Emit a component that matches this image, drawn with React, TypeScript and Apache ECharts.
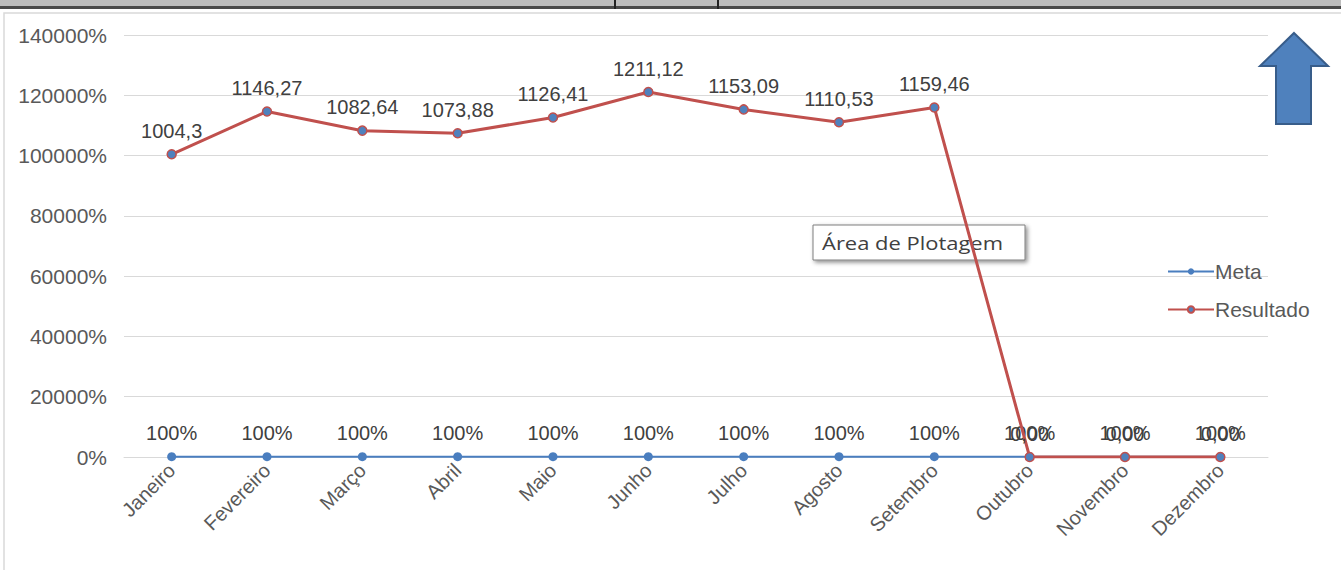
import React, { useEffect, useRef } from "react";
import * as echarts from "echarts";

const months = ["Janeiro", "Fevereiro", "Março", "Abril", "Maio", "Junho", "Julho", "Agosto", "Setembro", "Outubro", "Novembro", "Dezembro"];
const meta = [1, 1, 1, 1, 1, 1, 1, 1, 1, 1, 1, 1];
const resultado = [1004.3, 1146.27, 1082.64, 1073.88, 1126.41, 1211.12, 1153.09, 1110.53, 1159.46, 0, 0, 0];
const resultadoLabels = ["1004,3", "1146,27", "1082,64", "1073,88", "1126,41", "1211,12", "1153,09", "1110,53", "1159,46", "0,00", "0,00", "0,00"];
const yMax = 1400;
const yStep = 200;

const FONT = "'Liberation Sans', Arial, sans-serif";

export default function App() {
  const ref = useRef<HTMLDivElement>(null);
  useEffect(() => {
    if (!ref.current) return;
    const chart = echarts.init(ref.current, null, { renderer: "svg" });
    chart.setOption({
      animation: false,
      backgroundColor: "#ffffff",
      textStyle: { fontFamily: FONT },
      grid: { left: 124, right: 73, top: 35, bottom: 113, containLabel: false },
      legend: {
        orient: "vertical",
        left: 1162,
        top: 256,
        itemGap: 17,
        itemWidth: 46,
        itemHeight: 8,
        textStyle: { fontSize: 21, color: "#595959", fontFamily: FONT, padding: [0, 0, 0, -4] },
        data: ["Meta", "Resultado"],
      },
      xAxis: {
        type: "category",
        data: months,
        boundaryGap: true,
        axisLine: { show: true, lineStyle: { color: "#d9d9d9" } },
        axisTick: { show: false },
        axisLabel: { rotate: 45, fontSize: 20, color: "#595959", margin: 10, interval: 0 },
      },
      yAxis: {
        type: "value",
        min: 0,
        max: yMax,
        interval: yStep,
        axisLine: { show: false },
        axisTick: { show: false },
        splitLine: { lineStyle: { color: "#d9d9d9" } },
        axisLabel: {
          fontSize: 21,
          color: "#595959",
          margin: 17,
          formatter: (v: number) => `${Math.round(v * 100)}%`,
        },
      },
      series: [
        {
          name: "Meta",
          type: "line",
          data: meta,
          symbol: "circle",
          symbolSize: 9,
          lineStyle: { color: "#4a7ebf", width: 2 },
          itemStyle: { color: "#4a7ebf" },
          label: {
            show: true,
            position: "top",
            distance: 9,
            fontSize: 20,
            color: "#404040",
            formatter: (p: any) => `${Math.round(p.value * 100)}%`,
          },
          z: 2,
        },
        {
          name: "Resultado",
          type: "line",
          data: resultado,
          symbol: "circle",
          symbolSize: 9,
          lineStyle: { color: "#c0504d", width: 3 },
          itemStyle: { color: "#4f81bd", borderColor: "#c0504d", borderWidth: 1.5 },
          label: {
            show: true,
            position: "top",
            distance: 8,
            fontSize: 20,
            color: "#404040",
            formatter: (p: any) => resultadoLabels[p.dataIndex],
          },
          z: 3,
        },
      ],
      graphic: [
        { type: "rect", left: 0, top: 0, shape: { x: 0, y: 0, width: 1341, height: 6 }, style: { fill: "#bdbdbd" }, silent: true },
        { type: "rect", left: 0, top: 6, shape: { x: 0, y: 0, width: 1341, height: 3 }, style: { fill: "#4a4a4a" }, silent: true },
        { type: "rect", left: 614, top: 0, shape: { x: 0, y: 0, width: 2, height: 9 }, style: { fill: "#222" }, silent: true },
        { type: "rect", left: 717, top: 0, shape: { x: 0, y: 0, width: 2, height: 9 }, style: { fill: "#222" }, silent: true },
        {
          type: "rect",
          shape: { x: 4, y: 13, width: 1345, height: 565 },
          style: { fill: "none", stroke: "#d9d9d9", lineWidth: 1.5 },
          silent: true,
        },
        {
          type: "polygon",
          shape: {
            points: [
              [1294, 33],
              [1328, 66],
              [1311, 66],
              [1311, 124],
              [1276, 124],
              [1276, 66],
              [1260, 66],
            ],
          },
          style: { fill: "#4f81bd", stroke: "#385d8a", lineWidth: 2 },
          z: 10,
        },
        {
          type: "group",
          z: 20,
          children: [
            {
              type: "rect",
              shape: { x: 813, y: 225, width: 212, height: 35 },
              style: {
                fill: "#ffffff",
                stroke: "#7f7f7f",
                lineWidth: 1,
                shadowBlur: 4,
                shadowOffsetX: 2,
                shadowOffsetY: 2,
                shadowColor: "rgba(0,0,0,0.45)",
              },
            },
            {
              type: "text",
              x: 822,
              y: 243,
              scaleX: 1.22,
              style: {
                text: "Área de Plotagem",
                fontSize: 18,
                fill: "#404040",
                fontFamily: "'Open Sans', 'Noto Sans', sans-serif",
                verticalAlign: "middle",
              },
            },
          ],
        },
      ],
    });
    return () => chart.dispose();
  }, []);
  return <div ref={ref} style={{ position: "fixed", left: 0, top: 0, width: 1341, height: 570 }} />;
}
